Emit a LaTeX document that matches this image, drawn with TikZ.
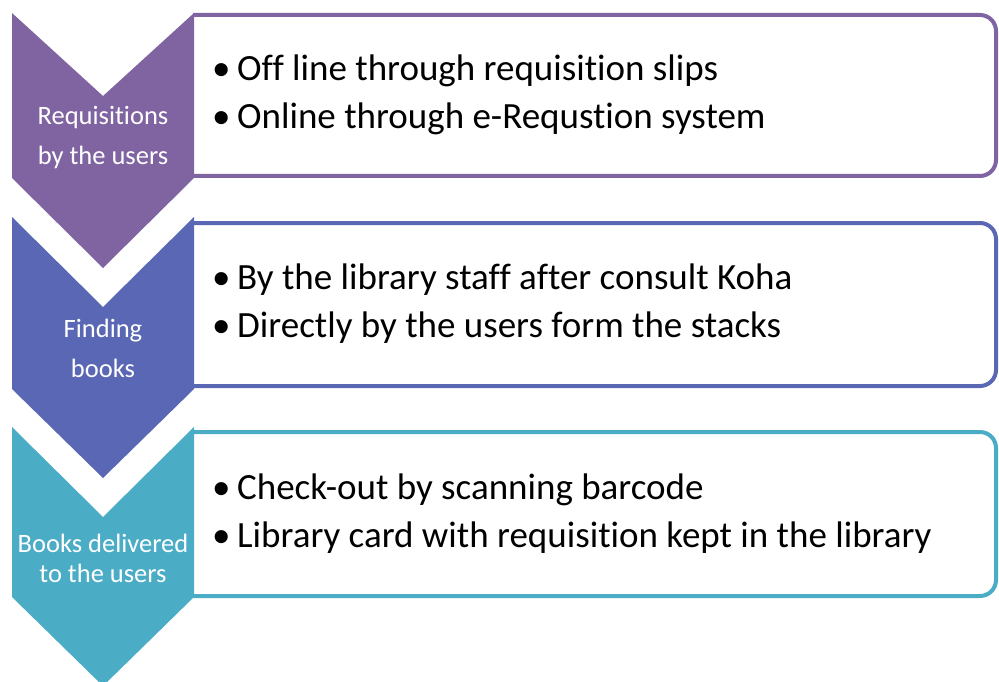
\documentclass[tikz,border=0pt]{standalone}
\usepackage{fontspec}
\setmainfont{Carlito}[Ligatures={NoCommon}]
\definecolor{stepA}{HTML}{8064A2}
\definecolor{stepB}{HTML}{5A67B4}
\definecolor{stepC}{HTML}{4BACC6}
\tikzset{
  x=1pt, y=1pt,
  chevlabel/.style={text=white, align=center, font=\fontsize{26.5}{40}\selectfont, inner sep=0pt},
  itemtext/.style={text=black, align=left, anchor=west, font=\fontsize{37}{48}\selectfont, inner sep=0pt},
  detailbox/.style={fill=white, line width=4pt, rounded corners=16pt},
}
\newcommand{\bul}{\makebox[25pt][l]{\textbullet}}
\begin{document}
\begin{tikzpicture}
\useasboundingbox (0,0) rectangle (999,-682);

% detail panels (right ends rounded, left edge hidden by the chevrons)
\filldraw[detailbox, draw=stepA] (193,-15) -- (996,-15) -- (996,-176) -- (193,-176);
\filldraw[detailbox, draw=stepB] (193,-223) -- (996,-223) -- (996,-386) -- (193,-386);
\filldraw[detailbox, draw=stepC] (193,-432) -- (996,-432) -- (996,-596) -- (193,-596);

% step chevrons
\fill[stepA] (12,-13) -- (103,-96) -- (194,-13) -- (194,-178) -- (103,-268) -- (12,-178) -- cycle;
\fill[stepB] (12,-217) -- (103,-307) -- (194,-217) -- (194,-389) -- (103,-478) -- (12,-389) -- cycle;
\fill[stepC] (12,-427) -- (103,-517) -- (194,-427) -- (194,-597) -- (103,-686) -- (12,-597) -- cycle;

% chevron captions
\node[chevlabel] (capA) at (103,-138) {Requisitions\\by the users};
\node[chevlabel] (capB) at (103,-348) {Finding\\books};
\node[chevlabel, font=\fontsize{26.5}{30}\selectfont] (capC) at (103,-558) {Books delivered\\to the users};

% panel items
\node[itemtext] (itemsA) at (212,-95) {\bul Off line through requisition slips\\\bul Online through e-Requstion system};
\node[itemtext] (itemsB) at (212,-304) {\bul By the library staff after consult Koha\\\bul Directly by the users form the stacks};
\node[itemtext] (itemsC) at (212,-514) {\bul Check-out by scanning barcode\\\bul Library card with requisition kept in the library};
\end{tikzpicture}
\end{document}
